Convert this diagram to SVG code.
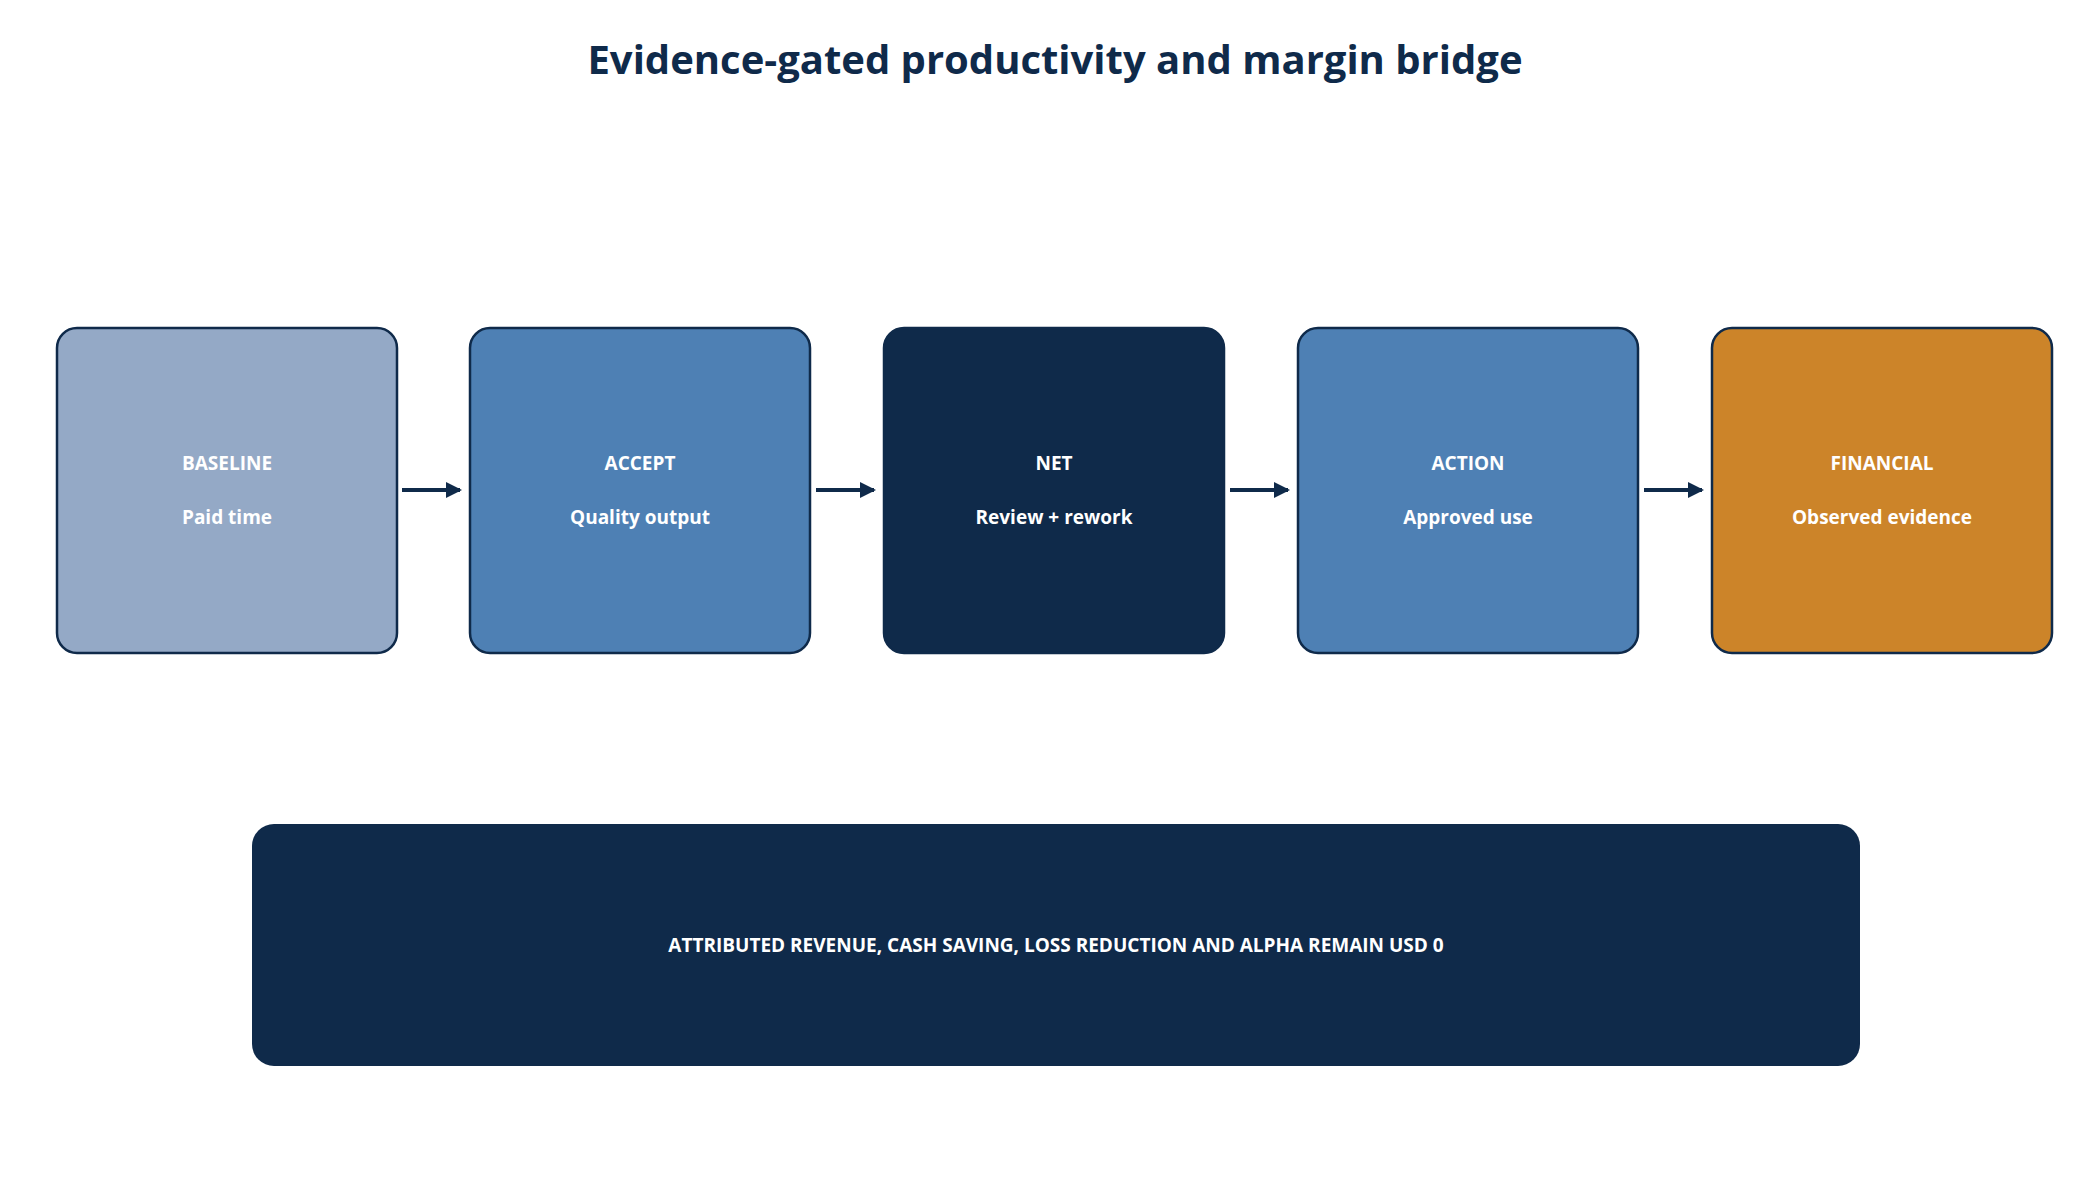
<svg xmlns="http://www.w3.org/2000/svg" width="2100" height="1180" viewBox="0 0 2100 1180">
<style>
.box{stroke:#0F2A4A;stroke-width:2.5}
.t{font-family:"Open Sans","Noto Sans",sans-serif;font-weight:700;fill:#fff;text-anchor:middle;font-size:19px}
.title{font-family:"Open Sans","Noto Sans",sans-serif;font-weight:700;fill:#0F2A4A;text-anchor:middle;font-size:40px}
.c{stroke:#0F2A4A;stroke-width:4;fill:none;marker-end:url(#ah)}
</style>
<defs><marker id="ah" markerWidth="4" markerHeight="4" refX="3.5" refY="2" orient="auto"><path d="M0,0 L4,2 L0,4 z" fill="#0F2A4A"/></marker></defs>
<rect width="2100" height="1180" fill="#fff"/>
<text class="title" x="1055" y="74">Evidence-gated productivity and margin bridge</text>
<g id="baseline"><rect class="box" x="57" y="328" width="340" height="325" rx="20" fill="#94A9C6"/><text class="t" x="227" y="470">BASELINE</text><text class="t" x="227" y="524">Paid time</text></g>
<g id="accept"><rect class="box" x="470" y="328" width="340" height="325" rx="20" fill="#4E80B4"/><text class="t" x="640" y="470">ACCEPT</text><text class="t" x="640" y="524">Quality output</text></g>
<g id="net"><rect class="box" x="884" y="328" width="340" height="325" rx="20" fill="#0F2A4A"/><text class="t" x="1054" y="470">NET</text><text class="t" x="1054" y="524">Review + rework</text></g>
<g id="action"><rect class="box" x="1298" y="328" width="340" height="325" rx="20" fill="#4E80B4"/><text class="t" x="1468" y="470">ACTION</text><text class="t" x="1468" y="524">Approved use</text></g>
<g id="financial"><rect class="box" x="1712" y="328" width="340" height="325" rx="20" fill="#CC8429"/><text class="t" x="1882" y="470">FINANCIAL</text><text class="t" x="1882" y="524">Observed evidence</text></g>
<g id="summary"><rect x="252" y="824" width="1608" height="242" rx="22" fill="#0F2A4A"/><text class="t" x="1056" y="952">ATTRIBUTED REVENUE, CASH SAVING, LOSS REDUCTION AND ALPHA REMAIN USD 0</text></g>
<g id="connectors">
<line class="c" x1="402" y1="490" x2="460" y2="490"/>
<line class="c" x1="816" y1="490" x2="874" y2="490"/>
<line class="c" x1="1230" y1="490" x2="1288" y2="490"/>
<line class="c" x1="1644" y1="490" x2="1702" y2="490"/>
</g>
</svg>
